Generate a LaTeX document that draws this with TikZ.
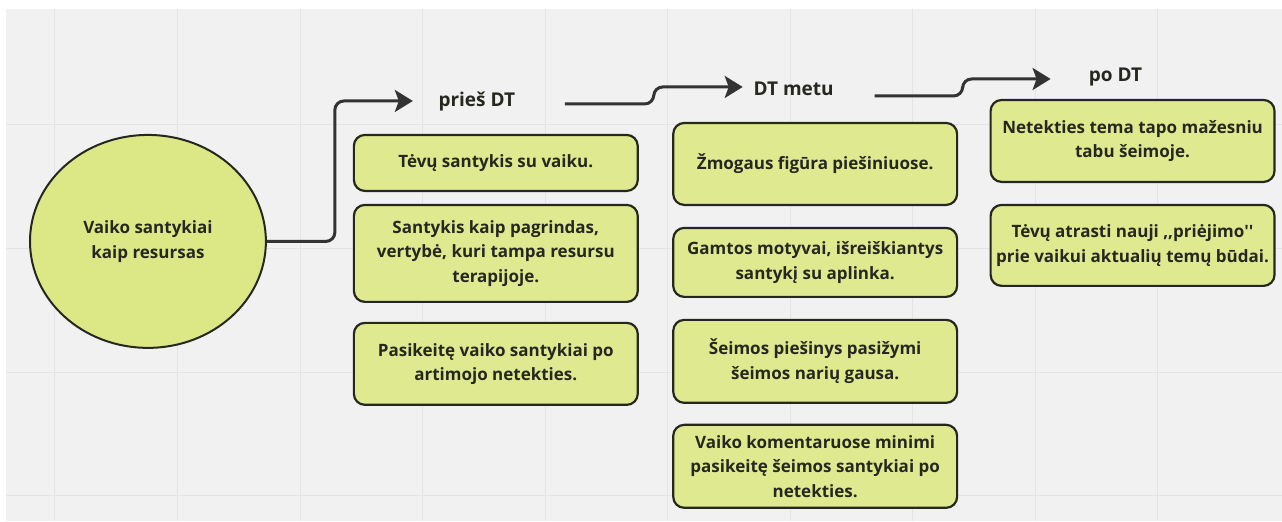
\documentclass[tikz,border=0pt]{standalone}
\usepackage{fontspec}
\setmainfont{Open Sans}
\newfontfamily\plainmarks{Open Sans}[Ligatures=TeXOff]
\usetikzlibrary{shapes.geometric,arrows.meta}
\definecolor{canvas}{HTML}{F1F1F1}
\definecolor{gridline}{HTML}{E4E4E4}
\definecolor{boxfill}{HTML}{DFE98F}
\definecolor{circfill}{HTML}{DCE886}
\definecolor{ink}{HTML}{262820}
\definecolor{wire}{HTML}{333333}
\tikzset{
  card/.style={draw=ink, fill=boxfill, line width=2.2pt, rounded corners=11pt,
    minimum width=284pt, inner sep=0pt, align=center, text=ink,
    font=\fontsize{17}{24.5}\selectfont\bfseries},
  hub/.style={ellipse, draw=ink, fill=circfill, line width=2pt, inner sep=0pt,
    minimum width=236pt, minimum height=213pt, align=center, text=ink,
    font=\fontsize{17}{25}\selectfont\bfseries},
  phase/.style={text=ink, inner sep=0pt, font=\fontsize{19}{22}\selectfont\bfseries},
  flow/.style={draw=wire, line width=3pt, rounded corners=9pt,
    -{Stealth[length=18pt,width=22pt,inset=4pt]}},
}
\begin{document}
\begin{tikzpicture}[x=1pt,y=-1pt]
% canvas with a light grid
\fill[white] (0,0) rectangle (1282,521);
\fill[canvas] (6,9) rectangle (1282,521);
\foreach \gx in {55,177.6,300.2,422.8,545.4,668,790.6,913.2,1035.8,1158.4}
  \draw[gridline, line width=1pt] (\gx,9) -- (\gx,521);
\foreach \gy in {125,248.6,372.2,495.8}
  \draw[gridline, line width=1pt] (6,\gy) -- (1282,\gy);
\useasboundingbox (0,0) rectangle (1282,521);

% central topic
\node[hub] (hub) at (148,241.5) {Vaiko santykiai\\kaip resursas};

% phase headings
\node[phase] (h1) at (477,102) {prieš DT};
\node[phase] (h2) at (794,89) {DT metu};
\node[phase] (h3) at (1116,77) {po DT};

% before
\node[card, minimum height=56pt] (b1) at (496,163) {Tėvų santykis su vaiku.};
\node[card, minimum height=97pt] (b2) at (496,253.5) {Santykis kaip pagrindas,\\vertybė, kuri tampa resursu\\terapijoje.};
\node[card, minimum height=82pt] (b3) at (496,364) {Pasikeitę vaiko santykiai po\\artimojo netekties.};

% during
\node[card, minimum height=82pt] (d1) at (815.5,164) {Žmogaus figūra piešiniuose.};
\node[card, minimum height=69pt] (d2) at (815.5,262.5) {Gamtos motyvai, išreiškiantys\\santykį su aplinka.};
\node[card, minimum height=83pt] (d3) at (815.5,361.5) {Šeimos piešinys pasižymi\\šeimos narių gausa.};
\node[card, minimum height=83pt] (d4) at (815.5,466.5) {Vaiko komentaruose minimi\\pasikeitę šeimos santykiai po\\netekties.};

% after
\node[card, minimum height=82pt] (a1) at (1133,141) {Netekties tema tapo mažesniu\\tabu šeimoje.};
\node[card, minimum height=81pt] (a2) at (1133,245.5) {Tėvų atrasti nauji {\plainmarks\bfseries,,}priėjimo{\plainmarks\bfseries''}\\prie vaikui aktualių temų būdai.};

% connectors between the phases
\coordinate (t1) at (413,101);
\coordinate (s2) at (565,104);
\coordinate (t2) at (743,87);
\coordinate (s3) at (875,96);
\coordinate (t3) at (1051,79);
\draw[flow] (hub.east) -- (335,241.5) -- (335,101) -- (t1);
\draw[flow] (s2) -- (654,104) -- (654,87) -- (t2);
\draw[flow] (s3) -- (963,96) -- (963,79) -- (t3);
\end{tikzpicture}
\end{document}
